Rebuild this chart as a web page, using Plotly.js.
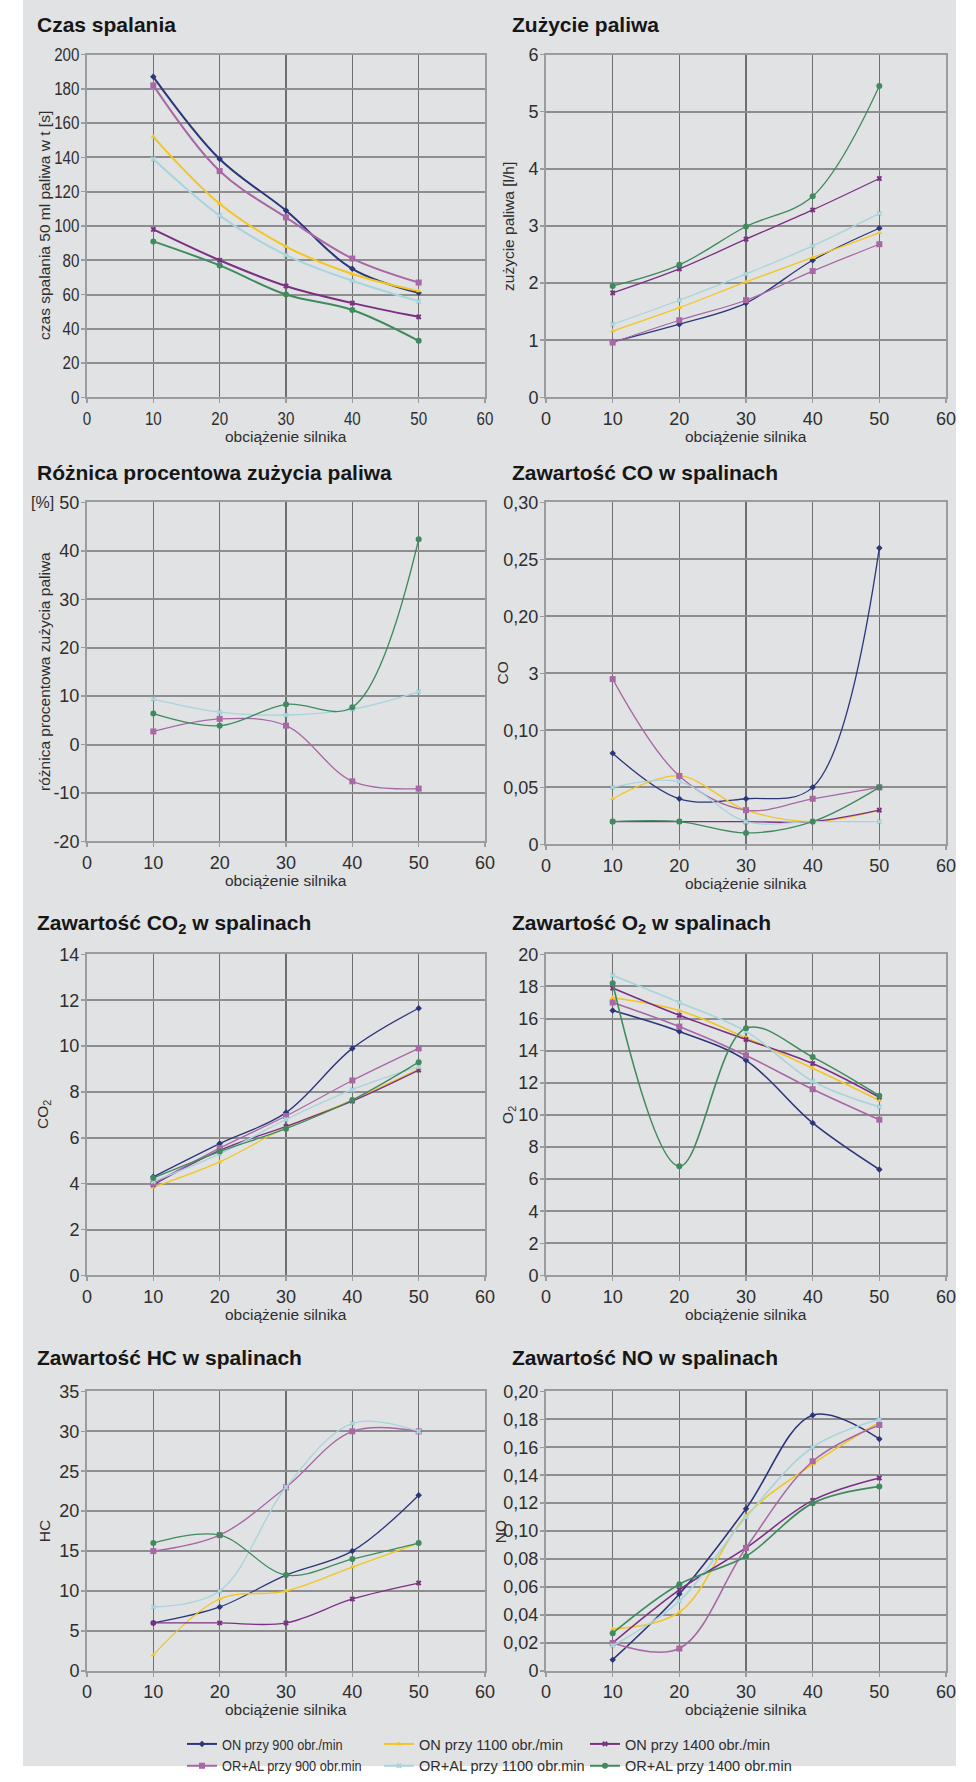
<!DOCTYPE html>
<html><head><meta charset="utf-8">
<script src="https://cdn.plot.ly/plotly-3.0.1.min.js"></script>
<style>html,body{margin:0;padding:0;background:#fff;}#chart{width:976px;height:1782px;}</style>
</head><body><div id="chart"></div>
<script>
// ---------- data ----------
const loads = [10, 20, 30, 40, 50];
const seriesNames = ['ON przy 900 obr./min', 'ON przy 1100 obr./min', 'ON przy 1400 obr./min',
  'OR+AL przy 900 obr.min', 'OR+AL przy 1100 obr.min', 'OR+AL przy 1400 obr.min'];
const chartTitles = ['Czas spalania', 'Zużycie paliwa', 'Różnica procentowa zużycia paliwa',
  'Zawartość CO w spalinach', 'Zawartość CO<sub>2</sub> w spalinach', 'Zawartość O<sub>2</sub> w spalinach',
  'Zawartość HC w spalinach', 'Zawartość NO w spalinach'];
const yTitles = ['czas spalania 50 ml paliwa w t [s]', 'zużycie paliwa [l/h]', 'różnica procentowa zużycia paliwa',
  'CO', 'CO<sub>2</sub>', 'O<sub>2</sub>', 'HC', 'NO'];
const xTitle = 'obciążenie silnika';
const xTicks = [0, 10, 20, 30, 40, 50, 60];

// Czas spalania
const czas_ON900 = [187, 139, 109, 75, 61];
const czas_ON1100 = [152, 113, 88, 72, 62];
const czas_ON1400 = [98, 80, 65, 55, 47];
const czas_OR900 = [182, 132, 105, 81, 67];
const czas_OR1100 = [139, 106, 83, 68, 56];
const czas_OR1400 = [91, 77, 60, 51, 33];
const czas_ticks = [0, 20, 40, 60, 80, 100, 120, 140, 160, 180, 200];

// Zużycie paliwa
const zuz_ON900 = [0.97, 1.28, 1.65, 2.40, 2.96];
const zuz_ON1100 = [1.16, 1.57, 2.02, 2.45, 2.88];
const zuz_ON1400 = [1.83, 2.25, 2.77, 3.28, 3.83];
const zuz_OR900 = [0.96, 1.35, 1.70, 2.21, 2.68];
const zuz_OR1100 = [1.28, 1.70, 2.16, 2.65, 3.22];
const zuz_OR1400 = [1.95, 2.32, 2.99, 3.52, 5.45];
const zuz_ticks = [0, 1, 2, 3, 4, 5, 6];

// Różnica procentowa
const roz_OR900 = [2.7, 5.3, 3.9, -7.6, -9.1];
const roz_OR1100 = [9.4, 6.7, 6.1, 7.3, 10.9];
const roz_OR1400 = [6.4, 3.9, 8.3, 7.7, 42.4];
const roz_ticks = [-20, -10, 0, 10, 20, 30, 40, 50];

// CO
const co_ON900 = [0.08, 0.04, 0.04, 0.05, 0.26];
const co_ON1100 = [0.04, 0.06, 0.03, 0.02, 0.03];
const co_ON1400 = [0.02, 0.02, 0.02, 0.02, 0.03];
const co_OR900 = [0.145, 0.06, 0.03, 0.04, 0.05];
const co_OR1100 = [0.05, 0.055, 0.02, 0.02, 0.02];
const co_OR1400 = [0.02, 0.02, 0.01, 0.02, 0.05];
const co_ticks = [0, 0.05, 0.10, 0.15, 0.20, 0.25, 0.30];
const co_tickText = ['0', '0,05', '0,10', '3', '0,20', '0,25', '0,30'];

// CO2
const co2_ON900 = [4.3, 5.75, 7.1, 9.9, 11.65];
const co2_ON1100 = [3.85, 4.95, 6.45, 7.65, 9.0];
const co2_ON1400 = [3.95, 5.45, 6.5, 7.6, 8.95];
const co2_OR900 = [4.0, 5.55, 6.95, 8.5, 9.9];
const co2_OR1100 = [4.1, 5.3, 6.8, 8.1, 9.1];
const co2_OR1400 = [4.25, 5.4, 6.4, 7.65, 9.3];
const co2_ticks = [0, 2, 4, 6, 8, 10, 12, 14];

// O2
const o2_ON900 = [16.5, 15.2, 13.4, 9.5, 6.6];
const o2_ON1100 = [17.3, 16.5, 14.8, 12.9, 10.9];
const o2_ON1400 = [17.9, 16.2, 14.7, 13.2, 11.1];
const o2_OR900 = [17.0, 15.5, 13.7, 11.6, 9.7];
const o2_OR1100 = [18.7, 17.0, 15.2, 12.1, 10.5];
const o2_OR1400 = [18.2, 6.8, 15.4, 13.6, 11.2];
const o2_ticks = [0, 2, 4, 6, 8, 10, 12, 14, 16, 18, 20];

// HC
const hc_ON900 = [6, 8, 12, 15, 22];
const hc_ON1100 = [2, 9, 10, 13, 16];
const hc_ON1400 = [6, 6, 6, 9, 11];
const hc_OR900 = [15, 17, 23, 30, 30];
const hc_OR1100 = [8, 10, 23, 31, 30];
const hc_OR1400 = [16, 17, 12, 14, 16];
const hc_ticks = [0, 5, 10, 15, 20, 25, 30, 35];

// NO
const no_ON900 = [0.008, 0.055, 0.116, 0.183, 0.166];
const no_ON1100 = [0.03, 0.042, 0.111, 0.148, 0.178];
const no_ON1400 = [0.02, 0.058, 0.088, 0.122, 0.138];
const no_OR900 = [0.02, 0.016, 0.088, 0.15, 0.176];
const no_OR1100 = [0.018, 0.05, 0.11, 0.16, 0.18];
const no_OR1400 = [0.027, 0.062, 0.082, 0.12, 0.132];
const no_ticks = [0, 0.02, 0.04, 0.06, 0.08, 0.10, 0.12, 0.14, 0.16, 0.18, 0.20];
const no_tickText = ['0', '0,02', '0,04', '0,06', '0,08', '0,10', '0,12', '0,14', '0,16', '0,18', '0,20'];

// ---------- styling ----------
const W = 976, H = 1782;
const SANS = "'Liberation Sans',Arial,sans-serif";
const colors = ['#2c3679', '#f2c620', '#7b3083', '#a768a5', '#a8d4dc', '#3f8b5e'];
const symbols = ['diamond', 'triangle-up', 'x', 'square', 'x', 'circle'];
const msizes = [5, 5, 5, 6, 5, 6];
const legendIds = ['legend', 'legend2', 'legend3', 'legend', 'legend2', 'legend3'];

const charts = [
  {series: [czas_ON900, czas_ON1100, czas_ON1400, czas_OR900, czas_OR1100, czas_OR1400], ticks: czas_ticks, lw: 2},
  {series: [zuz_ON900, zuz_ON1100, zuz_ON1400, zuz_OR900, zuz_OR1100, zuz_OR1400], ticks: zuz_ticks, lw: 1.3},
  {series: [null, null, null, roz_OR900, roz_OR1100, roz_OR1400], ticks: roz_ticks, lw: 1.3},
  {series: [co_ON900, co_ON1100, co_ON1400, co_OR900, co_OR1100, co_OR1400], ticks: co_ticks, tickText: co_tickText, lw: 1.3},
  {series: [co2_ON900, co2_ON1100, co2_ON1400, co2_OR900, co2_OR1100, co2_OR1400], ticks: co2_ticks, lw: 1.3},
  {series: [o2_ON900, o2_ON1100, o2_ON1400, o2_OR900, o2_OR1100, o2_OR1400], ticks: o2_ticks, lw: 1.6},
  {series: [hc_ON900, hc_ON1100, hc_ON1400, hc_OR900, hc_OR1100, hc_OR1400], ticks: hc_ticks, lw: 1.3},
  {series: [no_ON900, no_ON1100, no_ON1400, no_OR900, no_OR1100, no_OR1400], ticks: no_ticks, tickText: no_tickText, lw: 1.6}
];

// layout geometry (pixels)
const plotL = [87, 546], plotR = [485, 946];
const rowTop = [55, 507, 963, 1404];
const plotBot = [401, 401, 849, 852, 1287, 1287, 1686, 1686];
const titleY = [25, 477, 932, 1370];
const titleX = [35, 510];
const yTitleX = [45, 509, 45, 502, 44, 509, 44, 500];

const px = p => p / W;
const py = p => 1 - p / H;

const data = [];
const layout = {
  width: W, height: H,
  margin: {l: 0, r: 0, t: 0, b: 0, pad: 0},
  paper_bgcolor: '#ffffff',
  plot_bgcolor: '#e7e8ea',
  showlegend: true,
  annotations: [],
  shapes: [{type: 'rect', xref: 'paper', yref: 'paper', x0: px(23), x1: px(956), y0: 0, y1: 1,
    fillcolor: '#e1e2e4', line: {width: 0}, layer: 'below'}]
};

const tickFont = {family: SANS, size: 18, color: '#2e2e2e'};
const labelFont = {family: SANS, size: 15.5, color: '#2e2e2e'};

charts.forEach((c, i) => {
  const col = i % 2, row = Math.floor(i / 2);
  const xa = 'xaxis' + (i === 0 ? '' : i + 1), ya = 'yaxis' + (i === 0 ? '' : i + 1);
  const xr = 'x' + (i === 0 ? '' : i + 1), yr = 'y' + (i === 0 ? '' : i + 1);
  const bot = plotBot[i];
  layout[xa] = {
    domain: [px(plotL[col]), px(plotR[col])], anchor: yr, range: [0, 60],
    tickmode: 'array', tickvals: xTicks, ticktext: xTicks.map(String),
    showgrid: true, gridcolor: '#6f6f70', gridwidth: 1.2, zeroline: false,
    showline: true, linecolor: '#9c9c9e', linewidth: 2, mirror: true,
    ticks: 'outside', ticklen: 4, tickcolor: '#9c9c9e', tickwidth: 1.5,
    tickfont: tickFont, fixedrange: true
  };
  const tv = c.ticks;
  layout[ya] = {
    domain: [py(bot), py(rowTop[row])], anchor: xr,
    range: [tv[0], tv[tv.length - 1]],
    tickmode: 'array', tickvals: tv, ticktext: c.tickText ? c.tickText : tv.map(String),
    showgrid: true, gridcolor: '#8d8d8f', gridwidth: 2, zeroline: false,
    showline: true, linecolor: '#9c9c9e', linewidth: 2, mirror: true,
    ticks: 'outside', ticklen: 4, tickcolor: '#9c9c9e', tickwidth: 1.5,
    ticklabelstandoff: -2,
    tickfont: tickFont, fixedrange: true
  };
  c.series.forEach((vals, s) => {
    if (!vals) return;
    data.push({
      type: 'scatter', mode: 'lines+markers', x: loads, y: vals,
      xaxis: xr, yaxis: yr, name: seriesNames[s],
      line: {color: colors[s], width: c.lw, shape: 'spline', smoothing: 1},
      marker: {color: colors[s], symbol: symbols[s], size: msizes[s], line: {width: 0}},
      showlegend: i === 0, legend: legendIds[s], cliponaxis: false
    });
  });
  // chart title
  layout.annotations.push({
    xref: 'paper', yref: 'paper', x: px(titleX[col]), y: py(titleY[row]),
    xanchor: 'left', yanchor: 'middle', showarrow: false,
    text: '<b>' + chartTitles[i] + '</b>', font: {family: SANS, size: 21, color: '#161616'}
  });
  // x title
  layout.annotations.push({
    xref: 'paper', yref: 'paper', x: px((plotL[col] + plotR[col]) / 2), y: py(bot + 39),
    xanchor: 'center', yanchor: 'middle', showarrow: false, text: xTitle, font: labelFont
  });
  // y title
  layout.annotations.push({
    xref: 'paper', yref: 'paper', x: px(yTitleX[i]), y: py((rowTop[row] + bot) / 2),
    xanchor: 'center', yanchor: 'middle', showarrow: false, textangle: -90,
    text: yTitles[i], font: labelFont
  });
});
// "[%]" unit label
layout.annotations.push({
  xref: 'paper', yref: 'paper', x: px(42), y: py(rowTop[1]),
  xanchor: 'center', yanchor: 'middle', showarrow: false, text: '[%]', font: {family: SANS, size: 16, color: '#2e2e2e'}
});

const legendBase = {orientation: 'v', bgcolor: 'rgba(0,0,0,0)', borderwidth: 0,
  font: {family: SANS, size: 14.5, color: '#2e2e2e'}, xanchor: 'left', yanchor: 'top',
  xref: 'paper', yref: 'paper', y: py(1744), itemwidth: 30, tracegroupgap: 0};
layout.legend = Object.assign({}, legendBase, {x: px(182)});
layout.legend2 = Object.assign({}, legendBase, {x: px(379)});
layout.legend3 = Object.assign({}, legendBase, {x: px(585)});

Plotly.newPlot('chart', data, layout, {displayModeBar: false, staticPlot: true}).then(gd => {
  // narrow the glyphs to imitate the condensed typeface of the original
  const squeeze = (sel, f) => gd.querySelectorAll(sel).forEach(t => {
    const w = t.getComputedTextLength();
    if (w > 0) {
      t.setAttribute('textLength', (w * f).toFixed(2));
      t.setAttribute('lengthAdjust', 'spacingAndGlyphs');
    }
  });
  squeeze('.xtick text, .ytick text', 0.84);
  squeeze('.legendtext', 0.88);
});
</script>
</body></html>
